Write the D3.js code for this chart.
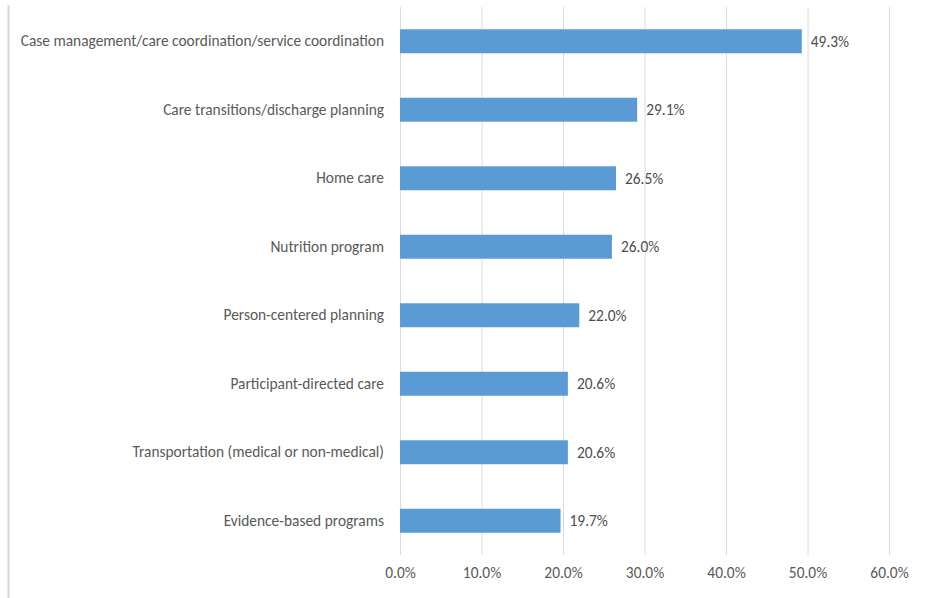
<!DOCTYPE html>
<html><head><meta charset="utf-8">
<script src="https://cdn.jsdelivr.net/npm/d3@7"></script>
<style>body{margin:0;background:#fff;} svg{display:block;}</style>
</head><body>
<script>
const categories = [
  "Case management/care coordination/service coordination",
  "Care transitions/discharge planning",
  "Home care",
  "Nutrition program ",
  "Person-centered planning",
  "Participant-directed care",
  "Transportation (medical or non-medical)",
  "Evidence-based programs"
];
const values = [49.3, 29.1, 26.5, 26.0, 22.0, 20.6, 20.6, 19.7];
const tickValues = [0, 10, 20, 30, 40, 50, 60];

(function () {
const W = 927, H = 598;
const mLeft = 400, mRight = 889, mTop = 7, mBottom = 555;
const svg = d3.select("body").append("svg").attr("width", W).attr("height", H);
const font = "Carlito, Lato, sans-serif";
const fs = 15.4;

// frame line at left
svg.append("line").attr("x1", 8.5).attr("x2", 8.5).attr("y1", 5).attr("y2", H)
  .attr("stroke", "#d6d6d6").attr("stroke-width", 2);

const x = d3.scaleLinear().domain([0, 60]).range([mLeft, mRight]);
const y = d3.scaleBand().domain(categories).range([mTop, mBottom]).paddingInner(0.65).paddingOuter(0.325);

// gridlines
svg.append("g").selectAll("line").data(tickValues).join("line")
  .attr("x1", d => x(d) + 0.5).attr("x2", d => x(d) + 0.5)
  .attr("y1", mTop).attr("y2", mBottom)
  .attr("stroke", "#dcdcdc").attr("stroke-width", 1);

// x axis labels
const xAxis = d3.axisBottom(x).tickValues(tickValues).tickSize(0).tickPadding(0)
  .tickFormat(d => d.toFixed(1) + "%");
const gx = svg.append("g").attr("transform", `translate(0,${mBottom + 12})`).call(xAxis);
gx.select(".domain").remove();
gx.selectAll("text").attr("fill", "#595959").attr("font-size", fs).attr("font-family", font);

// y axis labels
const yAxis = d3.axisLeft(y).tickSize(0).tickPadding(16);
const gy = svg.append("g").attr("transform", `translate(${mLeft},0)`).call(yAxis);
gy.select(".domain").remove();
gy.selectAll("text").attr("fill", "#595959").attr("font-size", fs).attr("font-family", font);

// bars
svg.append("g").selectAll("rect").data(values).join("rect")
  .attr("x", x(0)).attr("y", (d, i) => y(categories[i]))
  .attr("width", d => x(d) - x(0)).attr("height", y.bandwidth())
  .attr("fill", "#5b9bd5");

// value labels
svg.append("g").selectAll("text").data(values).join("text")
  .attr("x", d => x(d) + 9).attr("y", (d, i) => y(categories[i]) + y.bandwidth() / 2)
  .attr("dy", "0.35em").attr("fill", "#4d4d4d").attr("font-size", fs).attr("font-family", font)
  .text(d => d.toFixed(1) + "%");
})();
</script>
</body></html>
